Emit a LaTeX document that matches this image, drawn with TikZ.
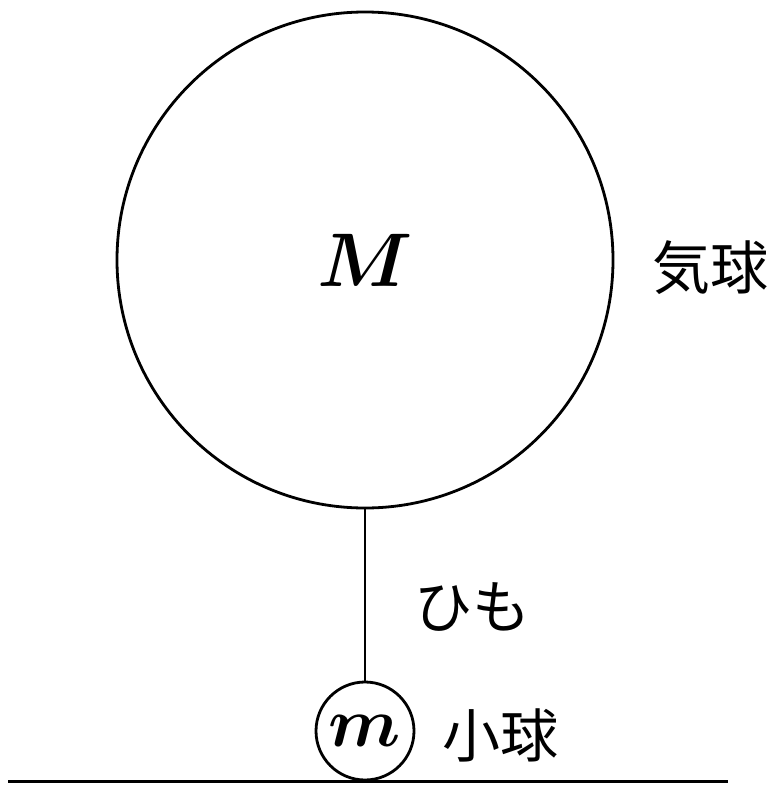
\documentclass[tikz,border=0pt]{standalone}
\usepackage{graphicx}
\usepackage{fontspec}
\newfontfamily\cjk{Noto Sans CJK JP}
\begin{document}
\begin{tikzpicture}[x=1pt,y=-1pt,
  ball/.style={circle,draw,line width=2.8pt,inner sep=0pt,outer sep=0pt},
  lbl/.style={font=\cjk\fontsize{58}{60}\selectfont,inner sep=0pt},
  rope/.style={line width=2.8pt}]
\useasboundingbox (0,0) rectangle (777,787);
\node[ball,minimum size=496pt] (M) at (365,260) {\scalebox{7.6}{\boldmath$M$}};
\node[ball,minimum size=98pt] (m) at (365,731) {\scalebox{7.0}{\boldmath$m$}};
\draw[rope] (M.south) -- (m.north);
\coordinate (gl) at (8,781);
\coordinate (gr) at (728,781);
\draw[line width=3pt] (gl) -- (gr);
\node[lbl] (kikyu) at (710,268) {気球};
\node[lbl] (himo) at (472,607) {ひも};
\node[lbl] (shokyu) at (500,735) {小球};
\end{tikzpicture}
\end{document}
